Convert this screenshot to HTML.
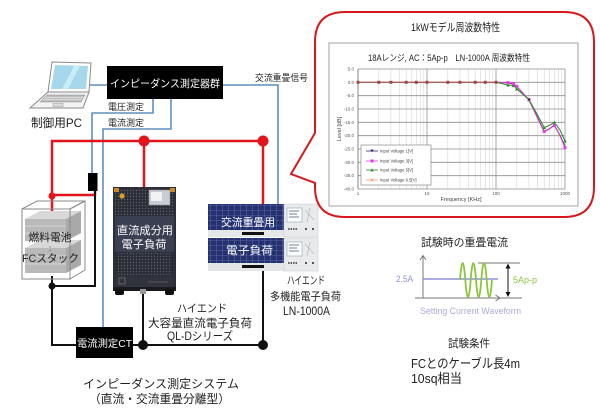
<!DOCTYPE html>
<html>
<head>
<meta charset="utf-8">
<style>
  html,body{margin:0;padding:0;background:#fff;}
  svg{display:block;}
  text{font-family:"Liberation Sans","Noto Sans CJK JP",sans-serif;}
</style>
</head>
<body>
<svg width="600" height="413" viewBox="0 0 600 413" xmlns="http://www.w3.org/2000/svg">
  <defs>
    <pattern id="grille" width="3" height="3" patternUnits="userSpaceOnUse">
      <rect width="3" height="3" fill="#2b2e36"/>
      <circle cx="1.5" cy="1.5" r="0.7" fill="#5a5e68"/>
    </pattern>
    <pattern id="panel" width="6" height="5" patternUnits="userSpaceOnUse">
      <rect width="6" height="5" fill="#253070"/>
      <path d="M0 0.5H6M0.5 0V5" stroke="#56639e" stroke-width="0.6"/>
    </pattern>
  </defs>

  <!-- ===== Laptop ===== -->
  <polygon points="52,62 91,63 89,92 48,92" fill="#fff" stroke="#8a8a8a" stroke-width="1"/>
  <polygon points="55,65 88,66 86,89 51,89" fill="#a5d8ea"/>
  <polygon points="62,89 74,66 80,66 68,89" fill="#c9ecf6"/>
  <polygon points="48,92 89,92 83,108 30,108" fill="#f3f3f3" stroke="#8a8a8a" stroke-width="1"/>
  <polygon points="47,95 85,95 81,102 40,102" fill="#bdbdbd" stroke="#888" stroke-width="0.5"/>
  <path d="M45 97.3H84M43 99.6H82" stroke="#eee" stroke-width="0.6"/>
  <rect x="53" y="103.5" width="10" height="3" fill="#ddd" stroke="#999" stroke-width="0.5"/>
  <text x="31" y="127" font-size="12" fill="#222" textLength="51" lengthAdjust="spacingAndGlyphs">制御用PC</text>

  <!-- ===== Blue signal lines ===== -->
  <g stroke="#5f8fbf" stroke-width="1.6" fill="none">
    <path d="M90 85H107"/>
    <path d="M223 85H278V204"/>
    <path d="M153 99V113H92V173"/>
    <path d="M171 99V129H103V327"/>
  </g>

  <!-- Measuring instruments box -->
  <rect x="107" y="66" width="116" height="33" fill="#000"/>
  <text x="165" y="87" font-size="10.5" fill="#fff" text-anchor="middle" textLength="110" lengthAdjust="spacingAndGlyphs">インピーダンス測定器群</text>
  <text x="255" y="81" font-size="9" fill="#222" textLength="53" lengthAdjust="spacingAndGlyphs">交流重畳信号</text>
  <text x="108" y="110" font-size="9" fill="#222" textLength="36" lengthAdjust="spacingAndGlyphs">電圧測定</text>
  <text x="108" y="126" font-size="9" fill="#222" textLength="36" lengthAdjust="spacingAndGlyphs">電流測定</text>

  <!-- ===== Red power lines ===== -->
  <g stroke="#e2141c" stroke-width="2.5" fill="none">
    <path d="M52 222V141H263V206"/>
    <path d="M144 141V188"/>
    <path d="M52 195H95V190"/>
  </g>
  <circle cx="144" cy="141" r="5.5" fill="#e2141c"/>
  <circle cx="263" cy="141" r="5.5" fill="#e2141c"/>
  <circle cx="52" cy="196" r="3.5" fill="#e2141c"/>

  <!-- voltage probe -->
  <rect x="88" y="173" width="9.5" height="18" fill="#000"/>

  <!-- ===== Black return lines ===== -->
  <g stroke="#111" stroke-width="2" fill="none">
    <path d="M95 191V286H52"/>
    <path d="M52 276V345H76"/>
    <path d="M133 345H263"/>
    <path d="M143 345V291"/>
    <path d="M263 345V270"/>
  </g>
  <circle cx="52" cy="286" r="3.5" fill="#111"/>
  <circle cx="143" cy="345" r="5" fill="#111"/>
  <circle cx="263" cy="345" r="5" fill="#111"/>

  <!-- CT box -->
  <rect x="76" y="327" width="57" height="31" fill="#000"/>
  <text x="104.5" y="347" font-size="10" fill="#fff" text-anchor="middle" textLength="55" lengthAdjust="spacingAndGlyphs">電流測定CT</text>

  <!-- ===== Fuel cell stack ===== -->
  <g>
    <polygon points="25,219 66,219 81,211 40,211" fill="#d8d8d8"/>
    <rect x="25" y="219" width="41" height="22" fill="#b9b9b9"/>
    <polygon points="66,219 81,211 81,233 66,241" fill="#a9a9a9"/>
    <path d="M25 226H66M25 233H66" stroke="#d5d5d5" stroke-width="1"/>
    <polygon points="25,248 66,248 81,240 40,240" fill="#d8d8d8"/>
    <rect x="25" y="248" width="41" height="25" fill="#b9b9b9"/>
    <polygon points="66,248 81,240 81,265 66,273" fill="#a9a9a9"/>
    <path d="M25 256H66M25 264H66" stroke="#d5d5d5" stroke-width="1"/>
    <rect x="22" y="209" width="48" height="70" fill="none" stroke="#8a8a8a" stroke-width="1"/>
    <polygon points="22,209 37,201 85,201 70,209" fill="none" stroke="#8a8a8a" stroke-width="1"/>
    <polygon points="70,209 85,201 85,270 70,279" fill="none" stroke="#8a8a8a" stroke-width="1"/>
  </g>
  <text x="50" y="241" font-size="11" fill="#222" text-anchor="middle" textLength="43" lengthAdjust="spacingAndGlyphs">燃料電池</text>
  <text x="50" y="251" font-size="8" fill="#222" text-anchor="middle">:</text>
  <text x="50.5" y="262" font-size="11" fill="#222" text-anchor="middle" textLength="57" lengthAdjust="spacingAndGlyphs">FCスタック</text>

  <!-- ===== QL-D DC load ===== -->
  <g>
    <rect x="113" y="187" width="63" height="103" fill="#2b2e38"/>
    <rect x="115" y="189" width="32" height="26" fill="url(#grille)"/>
    <rect x="147" y="189" width="27" height="26" fill="url(#grille)"/>
    <rect x="149" y="190" width="21" height="15" fill="#c9ccd2" stroke="#888" stroke-width="0.5"/>
    <rect x="151" y="192" width="11" height="9" fill="#f2f2f2"/>
    <rect x="114" y="188" width="5" height="4" fill="#c98a2a"/>
    <rect x="170" y="188" width="5" height="4" fill="#c98a2a"/>
    <circle cx="122" cy="196" r="2.6" fill="#d9a020"/>
    <rect x="115" y="216" width="59" height="36" fill="#3a3f52"/>
    <rect x="117" y="253" width="55" height="22" fill="url(#grille)"/>
    <rect x="115" y="276" width="59" height="11" fill="#30333c"/>
    <rect x="119" y="278" width="6" height="6" fill="none" stroke="#777" stroke-width="0.7"/>
    <path d="M148 282H168" stroke="#555" stroke-width="1"/>
    <rect x="113" y="287" width="63" height="4" fill="#1a1a1e"/>
    <rect x="115" y="289" width="9" height="6" rx="2" fill="#111"/>
    <rect x="165" y="289" width="9" height="6" rx="2" fill="#111"/>
    <rect x="140" y="289" width="6" height="5" fill="#999"/>
  </g>
  <text x="145" y="234" font-size="11" fill="#fff" text-anchor="middle" textLength="56" lengthAdjust="spacingAndGlyphs">直流成分用</text>
  <text x="144" y="248" font-size="11" fill="#fff" text-anchor="middle" textLength="45" lengthAdjust="spacingAndGlyphs">電子負荷</text>

  <text x="202" y="312" font-size="11" fill="#222" text-anchor="middle" textLength="50" lengthAdjust="spacingAndGlyphs">ハイエンド</text>
  <text x="200" y="327" font-size="11.5" fill="#222" text-anchor="middle" textLength="104" lengthAdjust="spacingAndGlyphs">大容量直流電子負荷</text>
  <text x="200" y="340" font-size="11.5" fill="#222" text-anchor="middle" textLength="66" lengthAdjust="spacingAndGlyphs">QL-Dシリーズ</text>

  <!-- ===== LN-1000A ===== -->
  <g>
    <rect x="208" y="204" width="76" height="26" fill="url(#panel)"/>
    <rect x="208" y="230" width="76" height="7" fill="#e4e6e8"/>
    <rect x="242" y="232" width="22" height="3" fill="#111"/>
    <rect x="284" y="204" width="34" height="33" fill="#e8eaec" stroke="#c8c8c8" stroke-width="0.5"/>
    <rect x="287" y="208" width="15" height="14" fill="#fdfdfd" stroke="#8aa" stroke-width="0.6"/>
    <path d="M289 211H299M289 214H297M289 217H299" stroke="#457" stroke-width="0.8"/>
    <path d="M305 210L314 220M310 208L307 222" stroke="#bbb" stroke-width="0.8"/>
    <path d="M288 229H298" stroke="#333" stroke-width="1.5" stroke-dasharray="1.5 1"/>
    <circle cx="306" cy="229" r="1" fill="#222"/><circle cx="313" cy="229" r="1" fill="#222"/>
    <rect x="208" y="238" width="76" height="25" fill="url(#panel)"/>
    <rect x="208" y="263" width="76" height="8" fill="#e4e6e8"/>
    <rect x="242" y="265" width="22" height="3" fill="#111"/>
    <rect x="284" y="238" width="34" height="33" fill="#e8eaec" stroke="#c8c8c8" stroke-width="0.5"/>
    <rect x="287" y="242" width="15" height="14" fill="#fdfdfd" stroke="#8aa" stroke-width="0.6"/>
    <path d="M289 245H299M289 248H297M289 251H299" stroke="#457" stroke-width="0.8"/>
    <path d="M305 244L314 254M310 242L307 256" stroke="#bbb" stroke-width="0.8"/>
    <path d="M288 263H298" stroke="#333" stroke-width="1.5" stroke-dasharray="1.5 1"/>
    <circle cx="306" cy="263" r="1" fill="#222"/><circle cx="313" cy="263" r="1" fill="#222"/>
  </g>
  <text x="248" y="226" font-size="11" fill="#fff" text-anchor="middle" textLength="54" lengthAdjust="spacingAndGlyphs">交流重畳用</text>
  <text x="249.5" y="254" font-size="11" fill="#fff" text-anchor="middle" textLength="47" lengthAdjust="spacingAndGlyphs">電子負荷</text>

  <text x="306" y="284" font-size="11" fill="#222" text-anchor="middle" textLength="38" lengthAdjust="spacingAndGlyphs">ハイエンド</text>
  <text x="305.5" y="300" font-size="11" fill="#222" text-anchor="middle" textLength="71" lengthAdjust="spacingAndGlyphs">多機能電子負荷</text>
  <text x="306.5" y="315" font-size="11.5" fill="#222" text-anchor="middle" textLength="47" lengthAdjust="spacingAndGlyphs">LN-1000A</text>

  <text x="161" y="388" font-size="12" fill="#222" text-anchor="middle" textLength="156" lengthAdjust="spacingAndGlyphs">インピーダンス測定システム</text>
  <text x="159.5" y="403" font-size="12" fill="#222" text-anchor="middle" textLength="141" lengthAdjust="spacingAndGlyphs">（直流・交流重畳分離型）</text>

  <!-- ===== Callout bubble ===== -->
  <path d="M345 12H564Q594 12 594 42V187Q594 217 564 217H345Q315 217 315 187V183L291 174L315 133V42Q315 12 345 12Z" fill="#fff" stroke="#d8181f" stroke-width="2"/>
  <text x="455.5" y="31" font-size="11" fill="#222" text-anchor="middle" textLength="89" lengthAdjust="spacingAndGlyphs">1kWモデル周波数特性</text>

  <!-- chart -->
  <rect x="329" y="43" width="249" height="163" fill="#fff" stroke="#a0a0a0" stroke-width="1"/>
  <text x="449" y="61" font-size="9" fill="#222" text-anchor="middle" textLength="162" lengthAdjust="spacingAndGlyphs">18Aレンジ, AC：5Ap-p　LN-1000A 周波数特性</text>

  <g stroke="#d6d6d6" stroke-width="0.6">
    <path d="M378.8 69V189M390.9 69V189M399.5 69V189M406.2 69V189M411.7 69V189M416.3 69V189M420.3 69V189M423.8 69V189"/>
    <path d="M447.8 69V189M459.9 69V189M468.5 69V189M475.2 69V189M480.7 69V189M485.3 69V189M489.3 69V189M492.8 69V189"/>
    <path d="M516.8 69V189M528.9 69V189M537.5 69V189M544.2 69V189M549.7 69V189M554.3 69V189M558.3 69V189M561.8 69V189"/>
  </g>
  <g stroke="#8e8e8e" stroke-width="0.8">
    <path d="M427 69V189M496 69V189M565 69V189"/>
    <path d="M358 69H565M358 82.3H565M358 95.7H565M358 109H565M358 122.3H565M358 135.7H565M358 149H565M358 162.3H565M358 175.7H565M358 189H565"/>
  </g>
  <path d="M358 69V189" stroke="#666" stroke-width="0.8"/>

  <g font-size="4.5" fill="#555" text-anchor="end">
    <text x="354" y="70.5">5.0</text>
    <text x="354" y="83.8">0.0</text>
    <text x="354" y="97.2">-5.0</text>
    <text x="354" y="110.5">-10.0</text>
    <text x="354" y="123.8">-15.0</text>
    <text x="354" y="137.2">-20.0</text>
    <text x="354" y="150.5">-25.0</text>
    <text x="354" y="163.8">-30.0</text>
    <text x="354" y="177.2">-35.0</text>
    <text x="354" y="190.5">-40.0</text>
  </g>
  <g font-size="4.5" fill="#555" text-anchor="middle">
    <text x="358" y="195">1</text>
    <text x="427" y="195">10</text>
    <text x="496" y="195">100</text>
    <text x="565" y="195">1000</text>
  </g>
  <text x="461" y="201" font-size="5.5" fill="#444" text-anchor="middle">Frequency [KHz]</text>
  <text transform="translate(341,129) rotate(-90)" font-size="5.5" fill="#444" text-anchor="middle">Level [dB]</text>

  <polyline points="358,82.3 496,82.3 508,82.8 513.6,84 516.8,86.8 529,100.5 537,117 544.2,132 549,129.5 554.3,125.5 560,136 565,147" fill="none" stroke="#f0a070" stroke-width="1"/>
  <polyline points="358,82.3 496,82.3 508,83 513.6,84.3 516.8,86.6 529,100 537,116 544.2,131 549,129 554.3,125 560,135 565,146" fill="none" stroke="#3a3a80" stroke-width="0.8"/>
  <polyline points="496,82.3 508,82.6 513.6,83.6 516.8,86.3 529,99.6 537,117 544.2,131.6 549,129 554.3,125.5 560,135.5 565,147.6" fill="none" stroke="#d838d0" stroke-width="1"/>
  <polyline points="496,82.3 508,85 513.6,85.5 516.8,89 529,99.6 537,114 544.2,127.6 549,125.5 554.3,122.3 560,130 565,141" fill="none" stroke="#2a8a2a" stroke-width="1"/>
  <path d="M358 82.3H496" stroke="#b85a50" stroke-width="1"/>
  <g fill="#9a4848">
    <rect x="356.5" y="80.8" width="3" height="3"/>
    <rect x="377.3" y="80.8" width="3" height="3"/>
    <rect x="389.4" y="80.8" width="3" height="3"/>
    <rect x="404.7" y="80.8" width="3" height="3"/>
    <rect x="414.8" y="80.8" width="3" height="3"/>
    <rect x="425.5" y="80.8" width="3" height="3"/>
    <rect x="446.3" y="80.8" width="3" height="3"/>
    <rect x="458.4" y="80.8" width="3" height="3"/>
    <rect x="473.7" y="80.8" width="3" height="3"/>
    <rect x="483.8" y="80.8" width="3" height="3"/>
    <rect x="494.5" y="80.8" width="3" height="3"/>
  </g>
  <g fill="#2a8a2a">
    <polygon points="508,83.3 509.8,86.5 506.2,86.5"/>
    <polygon points="513.6,83.8 515.4,87 511.8,87"/>
    <polygon points="516.8,87.3 518.6,90.5 515,90.5"/>
    <polygon points="529,97.9 530.8,101.1 527.2,101.1"/>
    <polygon points="544.2,125.9 546,129.1 542.4,129.1"/>
    <polygon points="554.3,120.6 556.1,123.8 552.5,123.8"/>
    <polygon points="565,139.3 566.8,142.5 563.2,142.5"/>
  </g>
  <g fill="#e040e0">
    <rect x="506.5" y="81.1" width="3" height="3"/>
    <rect x="512.1" y="82.1" width="3" height="3"/>
    <rect x="515.3" y="84.8" width="3" height="3"/>
    <rect x="527.5" y="98.1" width="3" height="3"/>
    <rect x="542.7" y="130.1" width="3" height="3"/>
    <rect x="552.8" y="124" width="3" height="3"/>
    <rect x="563.5" y="146.1" width="3" height="3"/>
  </g>
  <rect x="528" y="98.5" width="2" height="2" fill="#333"/>

  <rect x="361" y="145" width="70" height="40" fill="#fff" stroke="#777" stroke-width="0.6"/>
  <g font-size="4.2" fill="#444">
    <path d="M366 151H378" stroke="#2a2a70" stroke-width="0.8"/>
    <path d="M370.5 149.5L372 152.5L373.5 149.5Z" fill="#2a2a70"/>
    <text x="380" y="152.5">Input Voltage  1[V]</text>
    <path d="M366 161H378" stroke="#e040e0" stroke-width="0.8"/>
    <rect x="370.5" y="159.5" width="3" height="3" fill="#e040e0"/>
    <text x="380" y="162.5">Input Voltage  3[V]</text>
    <path d="M366 170H378" stroke="#2a8a2a" stroke-width="0.8"/>
    <polygon points="372,168.4 373.7,171.4 370.3,171.4" fill="#2a8a2a"/>
    <text x="380" y="171.5">Input Voltage  5[V]</text>
    <path d="M366 180H378" stroke="#f0a070" stroke-width="0.8"/>
    <path d="M370.5 178.5L373.5 181.5M373.5 178.5L370.5 181.5" stroke="#f0a070" stroke-width="0.7"/>
    <text x="380" y="181.5">Input Voltage  6.5[V]</text>
  </g>

  <!-- ===== Test current waveform ===== -->
  <text x="464.5" y="246" font-size="11" fill="#222" text-anchor="middle" textLength="87" lengthAdjust="spacingAndGlyphs">試験時の重畳電流</text>
  <g stroke="#777" stroke-width="1" fill="none">
    <path d="M423 298V256"/>
    <path d="M420 260L423 255.5L426 260"/>
    <path d="M415 298H522"/>
    <path d="M495.5 295L500 298L495.5 301"/>
    <path d="M478 263H520"/>
  </g>
  <path d="M423 279H498" stroke="#8f8fdc" stroke-width="1.6"/>
  <text x="396" y="282" font-size="9" fill="#8f8fdc" textLength="17" lengthAdjust="spacingAndGlyphs">2.5A</text>
  <path d="M460 280Q462.67 246 465.33 280T470.67 280T476 280T481.33 280T486.67 280T492 280" fill="none" stroke="#8cc63f" stroke-width="1.8"/>
  <path d="M508 267V293" stroke="#111" stroke-width="1"/>
  <polygon points="508,263.5 505.5,268.5 510.5,268.5" fill="#111"/>
  <polygon points="508,297 505.5,292 510.5,292" fill="#111"/>
  <text x="513" y="283" font-size="9" fill="#8cc63f" textLength="24" lengthAdjust="spacingAndGlyphs">5Ap-p</text>
  <text x="420" y="314" font-size="9" fill="#aaaad8" textLength="101" lengthAdjust="spacingAndGlyphs">Setting Current Waveform</text>

  <text x="469" y="347" font-size="11" fill="#222" text-anchor="middle" textLength="42" lengthAdjust="spacingAndGlyphs">試験条件</text>
  <text x="411" y="368" font-size="13" fill="#222" textLength="109" lengthAdjust="spacingAndGlyphs">FCとのケーブル長4m</text>
  <text x="411" y="383" font-size="13" fill="#222" textLength="51" lengthAdjust="spacingAndGlyphs">10sq相当</text>
</svg>
</body>
</html>
